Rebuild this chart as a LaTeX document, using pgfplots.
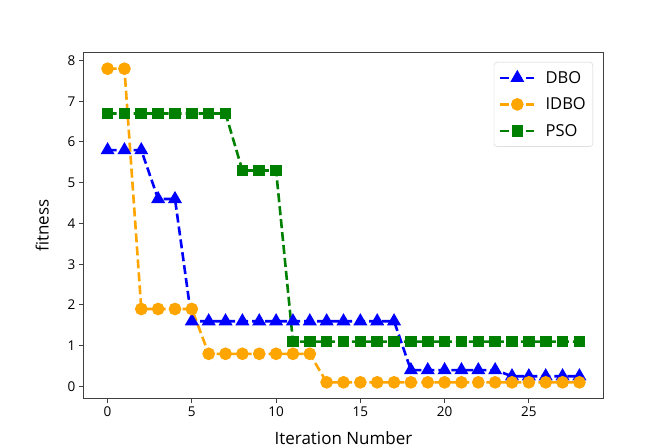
\documentclass[border=0pt]{standalone}
\usepackage{pgfplots}
\pgfplotsset{compat=1.18}
\usepackage{fontspec}
\setmainfont{Open Sans}
\definecolor{mblue}{RGB}{0,0,255}
\definecolor{morange}{RGB}{255,165,0}
\definecolor{mgreen}{RGB}{0,128,0}
\pgfplotstableread{
x dbo idbo pso
0 5.8 7.8 6.7
1 5.8 7.8 6.7
2 5.8 1.9 6.7
3 4.6 1.9 6.7
4 4.6 1.9 6.7
5 1.6 1.9 6.7
6 1.6 0.8 6.7
7 1.6 0.8 6.7
8 1.6 0.8 5.3
9 1.6 0.8 5.3
10 1.6 0.8 5.3
11 1.6 0.8 1.1
12 1.6 0.8 1.1
13 1.6 0.1 1.1
14 1.6 0.1 1.1
15 1.6 0.1 1.1
16 1.6 0.1 1.1
17 1.6 0.1 1.1
18 0.4 0.1 1.1
19 0.4 0.1 1.1
20 0.4 0.1 1.1
21 0.4 0.1 1.1
22 0.4 0.1 1.1
23 0.4 0.1 1.1
24 0.25 0.1 1.1
25 0.25 0.1 1.1
26 0.25 0.1 1.1
27 0.25 0.1 1.1
28 0.25 0.1 1.1
}\data
\begin{document}
\begin{tikzpicture}
\useasboundingbox (0,0) rectangle (669pt,447pt);
\begin{axis}[
  at={(84pt,49pt)}, anchor=south west,
  scale only axis, width=519pt, height=345pt,
  xmin=-1.4, xmax=29.4, ymin=-0.285, ymax=8.185,
  xtick={0,5,...,25}, ytick={0,1,...,8},
  tick align=outside, tick pos=left,
  major tick length=5pt,
  axis line style={draw=black!75, line width=1pt},
  every tick/.style={black!75, line width=1pt},
  tick label style={font=\fontsize{13.5}{15}\selectfont},
  /pgf/number format/assume math mode=true,
  xlabel={Iteration Number}, ylabel={fitness},
  label style={font=\fontsize{17}{20}\selectfont},
  xlabel style={yshift=-8pt},
  ylabel style={yshift=12pt},
  legend style={at={(1,1)}, xshift=-10pt, yshift=-9pt, anchor=north east,
    draw=black!18, rounded corners=3pt, font=\fontsize{16.5}{19}\selectfont,
    row sep=9pt, inner xsep=5pt, inner ysep=7pt},
  legend cell align=left,
  legend image code/.code={\draw[#1,mark repeat=2,mark phase=2] plot coordinates {(0pt,0pt)(17pt,0pt)(34pt,0pt)};\path (42pt,0pt);},
  every axis plot/.append style={line width=2.6pt, dash pattern=on 9pt off 4pt},
]
\addplot[mblue, mark=triangle*, mark size=5.5pt, mark options={solid}] table[x=x,y=dbo]{\data};
\addlegendentry{DBO}
\addplot[morange, mark=*, mark size=5pt, mark options={solid}] table[x=x,y=idbo]{\data};
\addlegendentry{IDBO}
\addplot[mgreen, mark=square*, mark size=4.5pt, mark options={solid}] table[x=x,y=pso]{\data};
\addlegendentry{PSO}
\end{axis}
\end{tikzpicture}
\end{document}
